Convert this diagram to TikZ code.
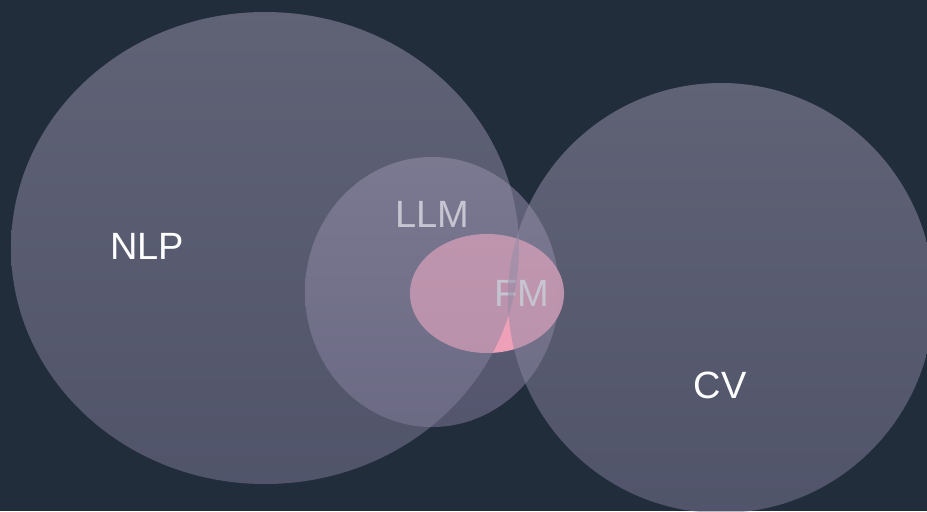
\documentclass[tikz,border=0pt]{standalone}
\usepackage{fontspec}
\setmainfont{Liberation Sans}
\definecolor{bgdark}{RGB}{34,45,60}
\definecolor{settop}{RGB}{158,153,176}
\definecolor{setbot}{RGB}{128,124,152}
\definecolor{llmtop}{RGB}{160,152,182}
\definecolor{llmbot}{RGB}{134,126,160}
\definecolor{fmpink}{RGB}{246,164,188}
\tikzset{
  setfill/.style={top color=settop, bottom color=setbot, fill opacity=0.5, draw=none},
  setlabel/.style={inner sep=0pt, text=white, font=\fontsize{28.5}{34}\selectfont}
}
\begin{document}
\begin{tikzpicture}[x=0.75pt,y=0.75pt,yscale=-1,xscale=1]
	\fill [bgdark] (0,0) rectangle (927,511);
	\useasboundingbox (0,0) rectangle (927,511);
	% LLM and FM lie under the two big sets
	\shade [setfill, top color=llmtop, bottom color=llmbot] (432,292) ellipse [x radius=127, y radius=135];
	\node [setlabel] (llm) at (432,214) {LLM};
	\fill [fmpink, fill opacity=0.95] (487,293.5) ellipse [x radius=77, y radius=59.5];
	\node [setlabel] (fm) at (522,293) {FM};
	% NLP and CV
	\shade [setfill] (265,248) ellipse [x radius=254, y radius=236];
	\shade [setfill] (721,298) ellipse [x radius=213, y radius=215];
	\node [setlabel] (nlp) at (147,246) {NLP};
	\node [setlabel] (cv) at (720,385) {CV};
\end{tikzpicture}
\end{document}
